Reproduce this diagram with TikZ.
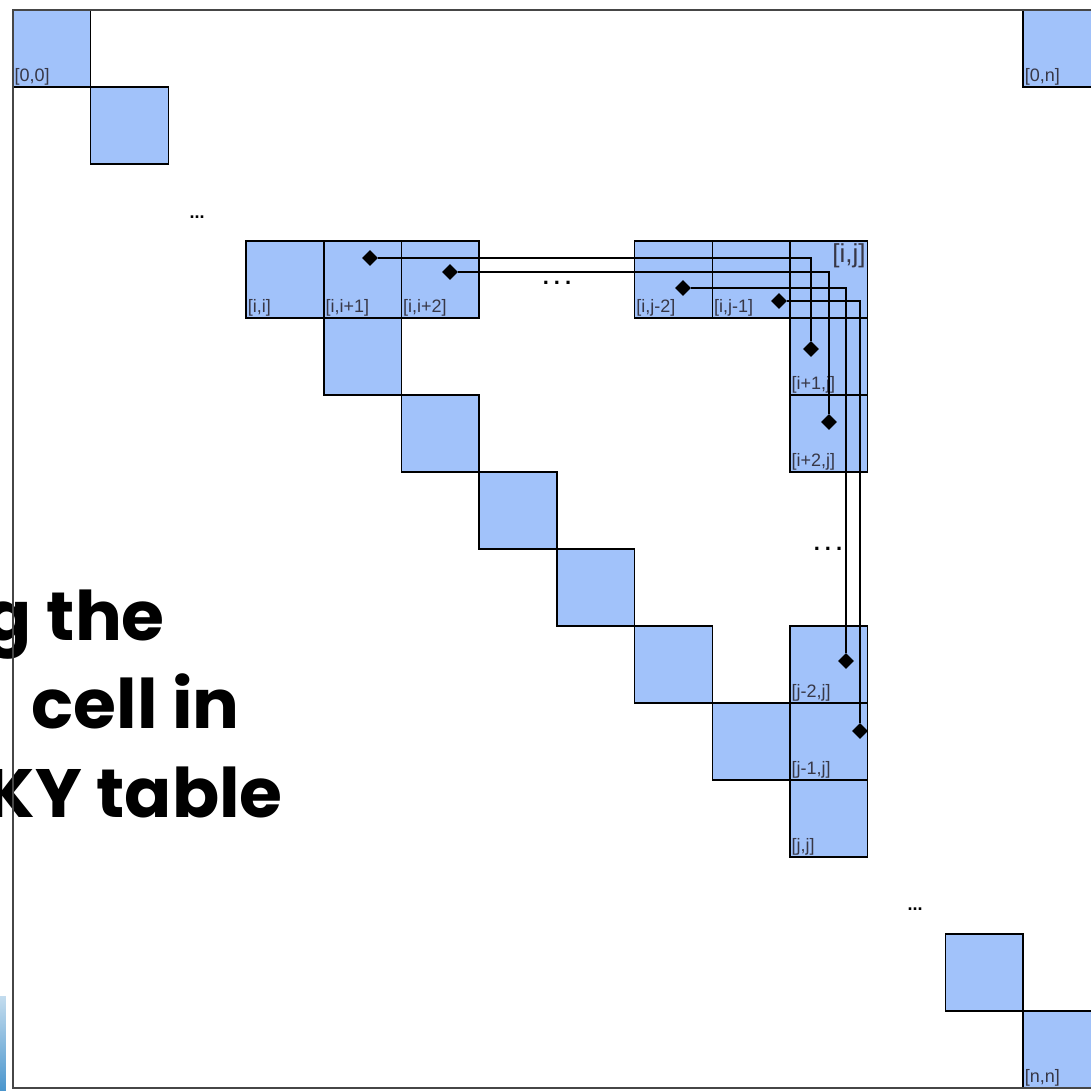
\documentclass[tikz,border=0pt]{standalone}
\usepackage{fontspec}
\setmainfont{Liberation Sans}
\newfontfamily\slidefont{Poppins}
\usetikzlibrary{shapes.geometric}
\definecolor{cellblue}{RGB}{161,194,250}
\definecolor{labelgray}{RGB}{55,55,70}
\definecolor{framegray}{RGB}{70,70,70}
\newcommand{\slidetext}[1]{\scalebox{1.16}[1.14]{#1}}
\tikzset{
  cell/.style={draw=black, line width=1.5pt, fill=cellblue, minimum width=77.7pt, minimum height=77pt, inner sep=0pt, outer sep=0pt},
  lab/.style={font=\fontsize{18}{18}\selectfont, text=labelgray, inner sep=1.5pt, anchor=south west},
  biglab/.style={font=\fontsize{26}{26}\selectfont, text=labelgray, inner sep=2pt, anchor=north east},
  dia/.style={diamond, fill=black, minimum size=16pt, inner sep=0pt},
  link/.style={draw=black, line width=1.5pt},
  dotsty/.style={font=\bfseries\fontsize{18}{18}\selectfont, inner sep=0pt},
  wdotsty/.style={font=\bfseries\fontsize{22}{22}\selectfont, inner sep=0pt},
  slide/.style={font=\slidefont\bfseries\fontsize{60}{60}\selectfont, anchor=base east, inner sep=0pt},
  frame/.style={draw=framegray, line width=2pt}
}
\begin{document}
\begin{tikzpicture}[x=77.7pt,y=-77pt]
\useasboundingbox (-13pt,10pt) rectangle (1078pt,-1080pt);
\clip (-13pt,10pt) rectangle (1078pt,-1080pt);
\fill[white] (-13pt,10pt) rectangle (1078pt,-1080pt);
% cells
\node[cell] (c0-0) at (0.5,0.5) {};
\node[cell] (c1-1) at (1.5,1.5) {};
\node[cell] (ci-i) at (3.5,3.5) {};
\node[cell] (ci-i1) at (4.5,3.5) {};
\node[cell] (ci-i2) at (5.5,3.5) {};
\node[cell] (ci-j2) at (8.5,3.5) {};
\node[cell] (ci-j1) at (9.5,3.5) {};
\node[cell] (ci-j) at (10.5,3.5) {};
\node[cell] (c4-4) at (4.5,4.5) {};
\node[cell] (c5-5) at (5.5,5.5) {};
\node[cell] (c6-6) at (6.5,6.5) {};
\node[cell] (c7-7) at (7.5,7.5) {};
\node[cell] (c8-8) at (8.5,8.5) {};
\node[cell] (c9-9) at (9.5,9.5) {};
\node[cell] (ci1-j) at (10.5,4.5) {};
\node[cell] (ci2-j) at (10.5,5.5) {};
\node[cell] (cj2-j) at (10.5,8.5) {};
\node[cell] (cj1-j) at (10.5,9.5) {};
\node[cell] (cj-j) at (10.5,10.5) {};
\node[cell] (c12-12) at (12.5,12.5) {};
\node[cell] (cn-n) at (13.5,13.5) {};
\node[cell] (c0-n) at (13.5,0.5) {};
% labels
\node[lab] (l00) at (c0-0.south west) {[0,0]};
\node[lab] (l0n) at (c0-n.south west) {[0,n]};
\node[lab] (lnn) at (cn-n.south west) {[n,n]};
\node[lab] (lii) at (ci-i.south west) {[i,i]};
\node[lab] (lii1) at (ci-i1.south west) {[i,i+1]};
\node[lab] (lii2) at (ci-i2.south west) {[i,i+2]};
\node[lab] (lij2) at (ci-j2.south west) {[i,j-2]};
\node[lab] (lij1) at (ci-j1.south west) {[i,j-1]};
\node[lab] (li1j) at (ci1-j.south west) {[i+1,j]};
\node[lab] (li2j) at (ci2-j.south west) {[i+2,j]};
\node[lab] (lj2j) at (cj2-j.south west) {[j-2,j]};
\node[lab] (lj1j) at (cj1-j.south west) {[j-1,j]};
\node[lab] (ljj) at (cj-j.south west) {[j,j]};
\node[biglab] (lij) at (ci-j.north east) {[i,j]};
% dots
\node[dotsty] (dotA) at (184pt,-207pt) {...};
\node[wdotsty] (dotB) at (544pt,-273pt) {.\hspace{5pt}.\hspace{5pt}.};
\node[wdotsty] (dotC) at (815pt,-539pt) {.\hspace{5pt}.\hspace{5pt}.};
\node[dotsty] (dotD) at (902pt,-899pt) {...};
% diamonds
\node[dia] (d1) at (357pt,-248pt) {};
\node[dia] (d2) at (437pt,-262pt) {};
\node[dia] (d3) at (670pt,-278pt) {};
\node[dia] (d4) at (766pt,-291pt) {};
\node[dia] (e1) at (798pt,-339pt) {};
\node[dia] (e2) at (816pt,-412pt) {};
\node[dia] (e3) at (833pt,-651pt) {};
\node[dia] (e4) at (847pt,-721pt) {};
\draw[link] (d1) -| (e1);
\draw[link] (d2) -| (e2);
\draw[link] (d3) -| (e3);
\draw[link] (d4) -| (e4);
% slide text
\node[slide] (t1) at (152pt,-630pt) {\slidetext{g the}};
\node[slide] (t2) at (227pt,-718pt) {\slidetext{cell in}};
\node[slide] (t3) at (270pt,-807pt) {\slidetext{KY table}};
% frame
\draw[frame] (0,0) rectangle (14,14);
% slide accent bar
\shade[top color={rgb,255:red,195;green,220;blue,238}, bottom color={rgb,255:red,75;green,150;blue,205}] (-13pt,-986pt) rectangle (-7pt,-1080pt);
\end{tikzpicture}
\end{document}
